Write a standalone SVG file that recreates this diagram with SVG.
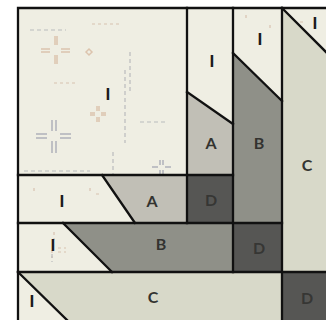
<svg xmlns="http://www.w3.org/2000/svg" width="326" height="320" viewBox="0 0 326 320">
<style>
.cream{fill:#efeee3}
.a{fill:#c1bfb6}
.b{fill:#8f9088}
.c{fill:#d8d9c9}
.d{fill:#565654}
.ln{stroke:#111;stroke-width:2.3;fill:none;stroke-linecap:square}
.t{font-family:Lato,"Liberation Sans",sans-serif;font-weight:700;font-size:16px;text-anchor:middle;fill:#333330}
.ti{font-family:Lato,"Liberation Sans",sans-serif;font-weight:900;font-size:16px;text-anchor:middle;fill:#1a1a1a}
.td{font-family:Lato,"Liberation Sans",sans-serif;font-weight:700;font-size:16px;text-anchor:middle;fill:#363634}
.dg{stroke:#b9bbbd;stroke-width:1.2;stroke-dasharray:4 3;fill:none}
.dt{stroke:#d8c2b0;stroke-width:1.2;stroke-dasharray:3 3;fill:none}
.xg{stroke:#bfc0c4;stroke-width:2;fill:none}
.xt{stroke:#dcc4ae;stroke-width:1.5;fill:none}
</style>
<rect x="0" y="0" width="326" height="320" fill="#ffffff"/>
<g id="bg"><rect x="18" y="8" width="308" height="312" class="cream"/></g>
<g id="decor">
<path class="dg" d="M30 30H66"/>
<path class="dt" d="M92 24H122"/>
<path class="dg" d="M130 52V92"/>
<path class="dg" d="M125 70V143"/>
<path class="dg" d="M140 122H165"/>
<path class="dt" d="M54 83H78"/>
<path class="dg" d="M24 171H90"/>
<path class="dg" d="M113 152V175"/>
<path class="xt" d="M55 36V45M57 36V45M55 55V64M57 55V64M41 49H50M41 52H50M61 49H70M61 52H70"/>
<path class="xg" d="M52 120V131M56 120V131M52 141V153M56 141V153M36 134H47M36 138H47M60 134H71M60 138H71"/>
<path class="xt" d="M97 106V111M99 106V111M97 117V122M99 117V122M90 113H95M90 115H95M101 113H106M101 115H106"/>
<path class="xg" d="M160 160V165M163 160V165M160 170V174M163 170V174M152 167H158M165 167H171"/>
<path class="xt" d="M86 52l3 -3 3 3 -3 3z"/>
<path class="xt" d="M213 12V17M216 12V17M208 14H212M217 14H221"/>
<path class="dg" d="M192 57H205M200 68H218"/>
<path class="dt" d="M34 188V193M90 188V194M96 194H102"/>
<path class="dt" d="M54 232V240M52 250V258M58 248H66M58 252H66"/>
<path class="dg" d="M52 254V262"/>
<path class="dt" d="M288 24H296M300 22H306"/>
<path class="dt" d="M246 15V20M270 25V31"/>
</g>
<g id="I-col1"><polygon points="187,8 233,8 233,124 187,92" class="cream"/></g>
<g id="A-col"><polygon points="187,92 233,124 233,175 187,175" class="a"/></g>
<g id="D-col1"><rect x="187" y="175" width="46" height="48" class="d"/></g>
<g id="B-col"><polygon points="233,53 282,101 282,223 233,223" class="b"/></g>
<g id="C-col"><polygon points="282,8 326,52 326,272 282,272" class="c"/></g>
<g id="A-row"><polygon points="102,175 187,175 187,223 135,223" class="a"/></g>
<g id="B-row"><polygon points="63,223 233,223 233,272 112,272" class="b"/></g>
<g id="D-row2"><rect x="233" y="223" width="49" height="49" class="d"/></g>
<g id="C-row"><polygon points="18,272 282,272 282,320 67,320" class="c"/></g>
<g id="D-corner"><rect x="282" y="272" width="44" height="48" class="d"/></g>
<g id="connectors">
<path class="ln" d="M18 8H326M18 8V320"/>
<path class="ln" d="M187 8V223M233 8V272M282 8V320"/>
<path class="ln" d="M18 175H233M18 223H282M18 272H326"/>
<path class="ln" d="M187 92L233 124M233 53L282 101M282 8L326 52"/>
<path class="ln" d="M102 175L135 223M63 223L112 272M18 272L67 320"/>
</g>
<g id="labels">
<text class="ti" x="108" y="100">I</text>
<text class="ti" x="212" y="67">I</text>
<text class="ti" x="260" y="45">I</text>
<text class="ti" x="315" y="29">I</text>
<text class="t" x="211" y="149">A</text>
<text class="t" x="259" y="149">B</text>
<text class="t" x="307" y="171">C</text>
<text class="ti" x="62" y="207">I</text>
<text class="t" x="152" y="207">A</text>
<text class="td" x="211" y="206">D</text>
<text class="ti" x="53" y="251">I</text>
<text class="t" x="161" y="250">B</text>
<text class="td" x="259" y="254">D</text>
<text class="ti" x="32" y="307">I</text>
<text class="t" x="153" y="303">C</text>
<text class="td" x="307" y="304">D</text>
</g>
</svg>
